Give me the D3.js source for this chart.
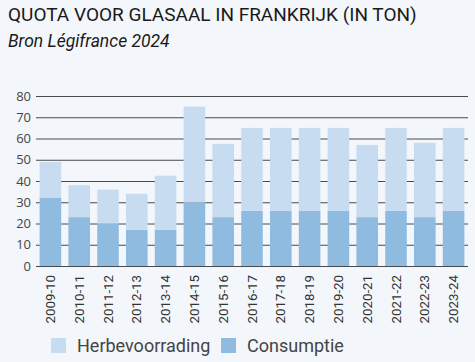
<!DOCTYPE html>
<html>
<head>
<meta charset="utf-8">
<script src="https://cdn.jsdelivr.net/npm/d3@7"></script>
<style>
html,body{margin:0;padding:0;background:#f3f7fb;}
svg{display:block;}
</style>
</head>
<body>
<script>
const categories = ["2009-10","2010-11","2011-12","2012-13","2013-14","2014-15","2015-16","2016-17","2017-18","2018-19","2019-20","2020-21","2021-22","2022-23","2023-24"];
const consumptie = [32,23,20,17,17,30,23,26,26,26,26,23,26,23,26];
const herbevoorrading = [17,15,16,17,25.5,45,34.5,39,39,39,39,34,39,35,39];
const yTicks = [0,10,20,30,40,50,60,70,80];
const seriesNames = ["Herbevoorrading","Consumptie"];
const colors = {"Herbevoorrading":"#c8dcf1","Consumptie":"#8fbbe0"};

const W = 475, H = 362;
const svg = d3.select("body").append("svg").attr("width", W).attr("height", H);
svg.append("rect").attr("width", W).attr("height", H).attr("fill", "#f3f7fb");

svg.append("text").attr("x", 8).attr("y", 21)
  .attr("font-family", "Roboto").attr("font-size", 19).attr("fill", "#1a1a1a")
  .text("QUOTA VOOR GLASAAL IN FRANKRIJK (IN TON)");
svg.append("text").attr("x", 8).attr("y", 47)
  .attr("font-family", "Roboto").attr("font-style", "italic").attr("font-size", 17.5).attr("fill", "#1a1a1a")
  .text("Bron Légifrance 2024");

const x = d3.scaleBand().domain(categories).range([36, 468]).paddingInner(0.25).paddingOuter(0.125);
const y = d3.scaleLinear().domain([0, 80]).range([266, 96]);

// gridlines
const yAxis = d3.axisLeft(y).tickValues(yTicks).tickSize(-(468-36)).tickPadding(6);
const gy = svg.append("g").attr("transform", "translate(36,0)").call(yAxis);
gy.select(".domain").remove();
gy.selectAll(".tick line").attr("stroke", "#4a4a4a").attr("stroke-width", 1);
gy.selectAll(".tick text").attr("font-family", "Open Sans").attr("font-size", 13).attr("fill", "#444").attr("x", -5);

const data = categories.map((c, i) => ({cat: c, Consumptie: consumptie[i], Herbevoorrading: herbevoorrading[i]}));
const stack = d3.stack().keys(["Consumptie","Herbevoorrading"])(data);

svg.append("g").selectAll("g").data(stack).join("g")
  .attr("fill", d => colors[d.key])
  .selectAll("rect").data(d => d).join("rect")
  .attr("x", d => x(d.data.cat))
  .attr("width", x.bandwidth())
  .attr("y", d => y(d[1]))
  .attr("height", d => y(d[0]) - y(d[1]));

// x labels
const xAxis = d3.axisBottom(x).tickSize(0).tickPadding(0);
const gx = svg.append("g").attr("transform", "translate(0,266)").call(xAxis);
gx.select(".domain").remove();
gx.selectAll(".tick text")
  .attr("font-family", "Roboto").attr("font-size", 13.3).attr("fill", "#333")
  .attr("transform", "rotate(-90)")
  .attr("text-anchor", "end")
  .attr("x", -9).attr("y", 0).attr("dy", "0.35em");

// legend
const legend = svg.append("g");
const legX = [51, 221];
seriesNames.forEach((n, i) => {
  legend.append("rect").attr("x", legX[i]).attr("y", 338).attr("width", 15).attr("height", 15).attr("fill", colors[n]);
  legend.append("text").attr("x", legX[i] + 26).attr("y", 352)
    .attr("font-family", "Roboto").attr("font-size", 18).attr("fill", "#444").text(n);
});
</script>
</body>
</html>
